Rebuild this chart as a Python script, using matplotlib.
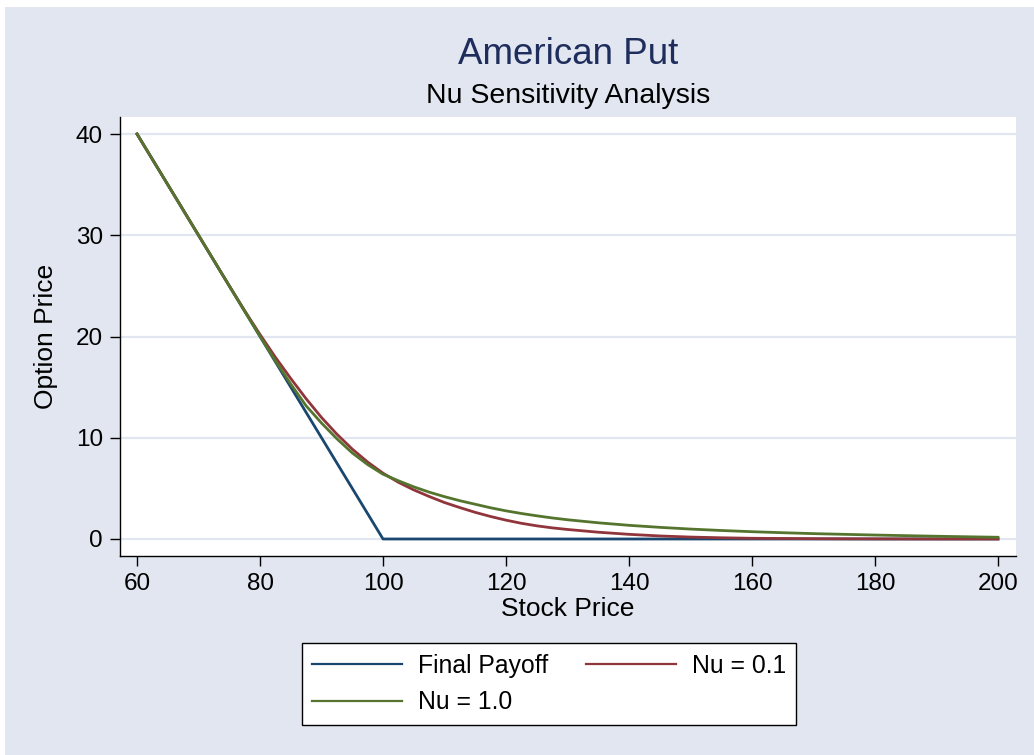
import matplotlib
matplotlib.use("Agg")
import matplotlib.pyplot as plt
from matplotlib.patches import Rectangle

# ---------------- data ----------------
stock = [60, 65, 70, 75, 77.5, 80, 82.5, 85, 87.5, 90, 92.5, 95, 97.5, 100,
         102.5, 105, 107.5, 110, 112.5, 115, 117.5, 120, 122.5, 125, 127.5, 130,
         135, 140, 145, 150, 155, 160, 165, 170, 180, 190, 200]
nu_01 = [40.0, 35.0, 30.0, 25.0, 22.55, 20.2, 17.95, 15.85, 13.85, 12.0, 10.35,
         8.88, 7.6, 6.5, 5.6, 4.85, 4.2, 3.6, 3.1, 2.63, 2.22, 1.86, 1.55, 1.3,
         1.1, 0.94, 0.67, 0.46, 0.30, 0.19, 0.12, 0.07, 0.05, 0.03, 0.01, 0.0, 0.0]
nu_10 = [40.0, 35.0, 30.0, 25.0, 22.5, 20.02, 17.6, 15.3, 13.15, 11.45, 9.9,
         8.5, 7.35, 6.4, 5.75, 5.15, 4.63, 4.18, 3.78, 3.43, 3.08, 2.78, 2.52,
         2.29, 2.08, 1.9, 1.6, 1.35, 1.15, 0.98, 0.84, 0.72, 0.62, 0.53, 0.39,
         0.27, 0.17]
payoff_x = [60, 100, 200]
payoff_y = [40, 0, 0]

xticks = [60, 80, 100, 120, 140, 160, 180, 200]
yticks = [0, 10, 20, 30, 40]

title = "American Put"
subtitle = "Nu Sensitivity Analysis"
xlabel = "Stock Price"
ylabel = "Option Price"
labels = ["Final Payoff", "Nu = 0.1", "Nu = 1.0"]

# ---------------- style ----------------
plt.rcParams['font.family'] = ['Liberation Sans', 'DejaVu Sans']
BG = '#e1e6f0'
GRID = '#e1e6f0'
C_NAVY = '#1a476f'
C_MAROON = '#90353b'
C_GREEN = '#55752f'
TITLE_C = '#1e2d5c'

W, H = 1034, 755
fig = plt.figure(figsize=(W / 100, H / 100), dpi=100, facecolor='white')
fig.patches.append(Rectangle((5 / W, 0), 1 - 5 / W, 1 - 7 / H,
                             transform=fig.transFigure, facecolor=BG,
                             edgecolor='none', zorder=-10))

left, right, top, bottom = 119.5, 1016, 117, 556
ax = fig.add_axes([left / W, 1 - bottom / H, (right - left) / W, (bottom - top) / H])
ax.set_facecolor('white')

ax.set_xlim(57.15, 202.93)
ax.set_ylim(-1.68, 41.68)

for yt in yticks:
    ax.axhline(yt, color=GRID, lw=1.6, zorder=0)

lw = 2.0
l_pay, = ax.plot(payoff_x, payoff_y, color=C_NAVY, lw=lw, zorder=3)
l_01, = ax.plot(stock, nu_01, color=C_MAROON, lw=lw, zorder=4)
l_10, = ax.plot(stock, nu_10, color=C_GREEN, lw=lw, zorder=5)

for s in ['top', 'right']:
    ax.spines[s].set_visible(False)
for s in ['left', 'bottom']:
    ax.spines[s].set_color('black')
    ax.spines[s].set_linewidth(1.0)

ax.set_xticks(xticks)
ax.set_yticks(yticks)
ax.tick_params(axis='both', direction='out', length=7, width=1.0,
               labelsize=17.5, colors='black', pad=5)

ax.set_xlabel(xlabel, fontsize=19, labelpad=2)
ax.set_ylabel(ylabel, fontsize=19)
ax.yaxis.set_label_coords((58 - left) / (right - left), 0.5)

cx = (left + right) / 2 / W
fig.text(cx, 1 - 54 / H, title, ha='center', va='center', fontsize=26.5, color=TITLE_C)
fig.text(cx, 1 - 96 / H, subtitle, ha='center', va='center', fontsize=20.5, color='black')

leg = fig.legend([l_pay, l_10, l_01], [labels[0], labels[2], labels[1]],
                 ncol=2, loc='center', bbox_to_anchor=(549 / W, 1 - 684 / H),
                 bbox_transform=fig.transFigure, fontsize=17.8,
                 frameon=True, fancybox=False, edgecolor='black', framealpha=1,
                 handlelength=3.64, handletextpad=0.65, columnspacing=1.5,
                 labelspacing=0.5, borderpad=0.43, borderaxespad=0)
leg.get_frame().set_linewidth(1.0)
leg.get_frame().set_facecolor('white')
for line in leg.get_lines():
    line.set_linewidth(1.6)

fig.savefig("out.png", dpi=100, facecolor='white')
